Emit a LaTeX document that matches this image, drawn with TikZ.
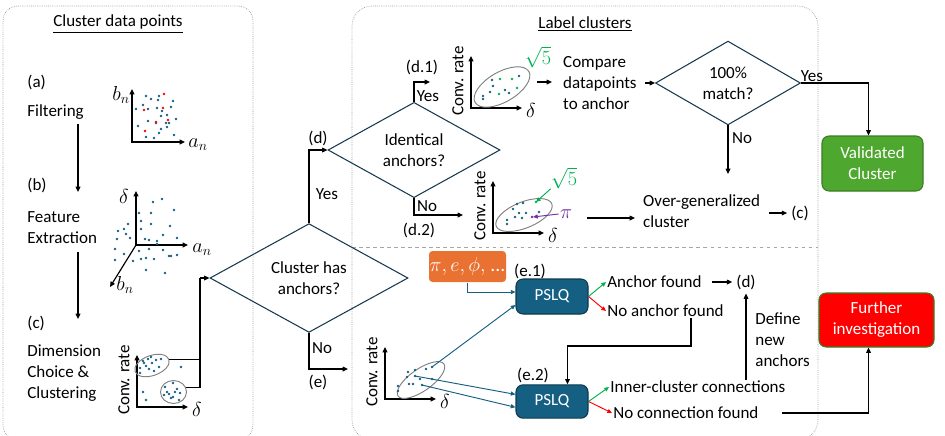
\documentclass[tikz,border=0pt]{standalone}
\usepackage{fontspec}
\setmainfont{Carlito}
\usepackage{amsmath}
\usetikzlibrary{calc,positioning,shapes.geometric,arrows.meta}
\definecolor{ptblue}{HTML}{156082}
\definecolor{dkblue}{HTML}{17394F}
\definecolor{orng}{HTML}{E97132}
\definecolor{vgreen}{HTML}{4EA72E}
\definecolor{bdgreen}{HTML}{3A7D22}
\definecolor{agreen}{HTML}{00B050}
\definecolor{purp}{HTML}{7030A0}

\begin{document}
\begin{tikzpicture}[x=0.03cm, y=-0.03cm, font=\fontsize{14.5}{18}\selectfont,
  flow/.style={draw, line width=0.9pt, -{Triangle[length=4.5pt,width=4pt]}},
  lnk/.style={draw=ptblue, line width=0.8pt, -{Triangle[length=4pt,width=3.5pt]}},
  grn/.style={draw=agreen, line width=0.8pt, -{Triangle[length=4pt,width=3.5pt]}},
  nogo/.style={draw=red, line width=0.8pt, -{Triangle[length=4pt,width=3.5pt]}},
  axis/.style={line width=1pt, {Triangle[length=4.5pt,width=4pt]}-{Triangle[length=4.5pt,width=4pt]}},
  clus/.style={ellipse, draw=gray, line width=0.8pt, inner sep=0},
  dec/.style={diamond, draw=dkblue, line width=0.9pt, align=center, inner sep=0},
  box/.style={rounded corners=6pt, line width=0.9pt, text=white, align=center},
  txt/.style={inner sep=1pt, align=left},
  mth/.style={inner sep=1pt, font=\fontsize{18}{20}\selectfont},
  panel/.style={draw=gray!80, densely dotted, line width=0.6pt}]
\useasboundingbox (0,0) rectangle (945,435);

\draw[panel, rounded corners=0.45cm] (3,6) rectangle (253,440);
\draw[panel, rounded corners=0.6cm] (352,6) rectangle (818,440);
\draw[gray!70, dashed, line width=0.6pt] (352,247) -- (818,247);
\node (ttla) at (118,24) {\underline{Cluster data points}};
\node (ttlb) at (585,24) {\underline{Label clusters}};

% left column
\node[txt, anchor=west] (lbla) at (26,82) {(a)};
\node[txt, anchor=west] (filt) at (26,112) {Filtering};
\node[txt, anchor=west] (lblb) at (26,185) {(b)};
\node[txt, anchor=west] (feat) at (26,228) {Feature\\Extraction};
\node[txt, anchor=west] (lblc) at (26,323) {(c)};
\node[txt, anchor=west] (dimc) at (26,373) {Dimension\\Choice \&\\Clustering};
\coordinate (ab1) at (78,124); \coordinate (ab2) at (78,192);
\coordinate (bc1) at (78,252); \coordinate (bc2) at (78,319);
\draw[flow] (ab1) -- (ab2);
\draw[flow] (bc1) -- (bc2);

% (a) filtering plot
\draw[axis] (132,89) |- (185,142);
\node[mth] (bna) at (121,95) {$b_n$};
\node[mth] (ana) at (198,145) {$a_n$};
\foreach \p in {(146,96),(151,99),(159,96),(158,100),(173,101),(136,109),(143,105),(148,109),(157,108),(171,107),(162,111),(161,116),(167,115),(138,126),(148,121),(156,123),(166,123),(169,123),(176,119),(161,129),(159,133),(167,127),(146,137),(154,138),(174,135)}
  \fill[ptblue] \p circle (1.1pt);
\foreach \p in {(164,94),(144,110),(163,108),(156,122),(168,120),(145,131)}
  \fill[red] \p circle (1.1pt);

% (b) feature plot
\draw[axis] (136,191) |- (188,245);
\draw[line width=1pt, -{Triangle[length=4.5pt,width=4pt]}] (136,245) -- (110,287);
\node[mth] (dlb) at (124,196) {$\delta$};
\node[mth] (anb) at (202,250) {$a_n$};
\node[mth] (bnb) at (125,285) {$b_n$};
\foreach \p in {(153,202),(162,199),(174,210),(139,213),(151,213),(128,224),(141,221),(151,224),(124,229),(141,229),(170,226),(118,231),(126,234),(130,238),(117,239),(145,239),(149,240),(157,241),(163,235),(177,238),(115,249),(124,254),(139,251),(149,249),(163,250),(169,256),(171,256),(177,255),(133,261),(141,259),(146,258),(154,259),(115,260),(146,270),(165,273),(157,244)}
  \fill[ptblue] \p circle (1.1pt);

% conv. rate plots
\foreach \ox/\oy/\nm in {137/407/c, 471/108/da, 493/233/db, 385/399/e}{
  \draw[axis] (\ox,\oy-52) |- (\ox+51,\oy);
  \node[rotate=90] (cv-\nm) at (\ox-13,\oy-27) {Conv. rate};
  \node[mth] (dl-\nm) at (\ox+60,\oy+2) {$\delta$};
}

% (c) clusters
\node[clus, minimum width=1.08cm, minimum height=0.6cm, rotate=20] (cA) at (152,365.5) {};
\node[clus, minimum width=0.78cm, minimum height=0.69cm] (cB) at (173.5,392) {};
\foreach \p in {(143,361),(148,359),(151,357),(156,360),(161,359),(152,363),(146,366),(149,369),(154,371),(159,367),(140,368),(140,373),(144,363),(181,367),(143,392),(146,400),(173,383),(165,387),(177,389),(167,392),(169,394),(164,395),(173,397),(180,393),(179,400),(175,392),(171,398)}
  \fill[ptblue] \p circle (1.1pt);
\coordinate (jc) at (200,278);
\draw[line width=0.9pt] (cA.east) -| (jc);
\draw[line width=0.9pt] (cB.20) -| (jc);

% decisions
\node[dec, minimum width=5.94cm, minimum height=2.49cm] (hasanc) at (309,278) {Cluster has\\anchors?};
\node[dec, minimum width=5.16cm, minimum height=2.46cm] (ident) at (414,150) {Identical\\anchors?};
\node[dec, minimum width=4.35cm, minimum height=2.46cm] (match) at (728,83) {100\%\\match?};
\draw[flow] (jc) -- (hasanc.west);
\coordinate (ego) at (348,369);
\coordinate (d1go) at (430,82);
\coordinate (d2go) at (463,215);
\draw[flow] (hasanc.north) |- (ident.west);
\draw[flow] (hasanc.south) |- (ego);
\draw[flow] (ident.north) |- (d1go);
\draw[flow] (ident.south) |- (d2go);
\node (yesa) at (327,194) {Yes};
\node (lbld) at (318,138) {(d)};
\node (noa) at (322,348) {No};
\node (lble) at (318,382) {(e)};
\node (yesb) at (428,96) {Yes};
\node (lbld1) at (422,67) {(d.1)};
\node (nob) at (427,206) {No};
\node (lbld2) at (419,230) {(d.2)};

% (d.1) plot
\node[clus, minimum width=1.86cm, minimum height=0.9cm, rotate=30] (eda) at (502,87) {};
\foreach \p in {(492,80),(493,86),(490,92),(483,96),(483,99),(505,90),(509,93),(519,76)}
  \fill[ptblue] \p circle (1.1pt);
\node[agreen, mth, inner sep=0, font=\fontsize{19}{20}\selectfont] (sqa) at (538,57) {$\sqrt{5}$};
\foreach \p [count=\k] in {(500,79),(499,94),(512,79),(517,88)}{
  \fill[agreen] \p circle (1.1pt);
  \coordinate (g\k) at \p;
  \draw[grn] (sqa.south west) -- (g\k);
}

% (d.2) plot
\node[clus, minimum width=1.8cm, minimum height=0.78cm, rotate=22] (edb) at (524,215) {};
\foreach \p in {(517,204),(523,203),(513,209),(519,213),(526,213),(515,217),(522,218),(507,220),(507,224),(539,212)}
  \fill[ptblue] \p circle (1.1pt);
\fill[agreen] (536,202) circle (1.1pt);
\fill[purp] (532,217) circle (1.1pt);
\coordinate (gq) at (536,202);
\coordinate (pq) at (533,217);
\node[agreen, mth, inner sep=0, font=\fontsize{19}{20}\selectfont] (sqb) at (564,178) {$\sqrt{5}$};
\node[purp, mth] (pib) at (566,214) {$\pi$};
\draw[grn] (sqb.south west) -- (gq);
\draw[draw=purp, line width=0.8pt, -{Triangle[length=4pt,width=3.5pt]}] (pib.west) -- (pq);

% label clusters, upper half
\node[txt, anchor=west, inner sep=0] (compare) at (563,83) {Compare\\datapoints\\to anchor};
\coordinate (daout) at (537,82);
\draw[flow, shorten >=0.33cm] (daout) -- (daout -| compare.west);
\draw[flow, shorten <=0.24cm] (compare.east) -- (match.west);
\node[box, draw=bdgreen, fill=vgreen, minimum width=3.03cm, minimum height=1.65cm] (valid) at (872.5,163.5) {Validated\\Cluster};
\draw[flow] (match.east) -| ($(valid.north)+(-4,0)$);
\node (yesc) at (812,76) {Yes};
\coordinate (nofin) at (728,174);
\draw[flow] (match.south) -- (nofin);
\node (noc) at (742,138) {No};
\node[txt, anchor=west, inner sep=0] (overgen) at (643,211) {Over-generalized\\cluster};
\coordinate (dbout) at (587,218);
\draw[flow, shorten >=0.24cm] (dbout) -- (dbout -| overgen.west);
\node (cback) at (800,213) {(c)};
\draw[flow, shorten <=0.27cm] (overgen.east |- cback.west) -- (cback.west);

% label clusters, lower half
\node[box, fill=orng, rounded corners=3pt, inner sep=0, minimum width=2.31cm, minimum height=0.93cm, font=\fontsize{17}{20}\selectfont] (consts) at (467.5,266.5) {$\pi, e, \phi,$ ...};
\node[box, draw=ptblue!60!black, fill=ptblue, minimum width=2.16cm, minimum height=1.05cm] (pslqa) at (552,296.5) {PSLQ};
\node[box, draw=ptblue!60!black, fill=ptblue, minimum width=2.16cm, minimum height=1.0cm] (pslqb) at (552,401.5) {PSLQ};
\node (lble1) at (530,271) {(e.1)};
\node (lble2) at (533,375) {(e.2)};
\draw[lnk] (consts.south) |- (pslqa.173);

\node[clus, minimum width=1.68cm, minimum height=0.66cm, rotate=35] (ee) at (421,380) {};
\foreach \p in {(426,369),(432,367),(415,370),(408,372),(407,377),(415,376),(420,379),(409,384),(413,384),(422,385),(398,386),(398,391),(432,379)}
  \fill[ptblue] \p circle (1.1pt);
\coordinate (eA) at (432,367);
\coordinate (eB) at (415,376);
\coordinate (eC) at (422,385);
\draw[lnk] (eA) -- (pslqa.193);
\draw[lnk] (eB) -- (pslqb.169);
\draw[lnk] (eC) -- (pslqb.189);

\node[txt, anchor=west] (anchfound) at (606,282) {Anchor found};
\node[txt, anchor=west] (noanch) at (606,311) {No anchor found};
\node[txt, anchor=west] (innerc) at (609,387) {Inner-cluster connections};
\node[txt, anchor=west] (noconn) at (612,413) {No connection found};
\draw[grn] (pslqa.east) -- (anchfound.west);
\draw[nogo] (pslqa.east) -- (noanch.west);
\draw[grn] (pslqb.east) -- (innerc.west);
\draw[nogo] (pslqb.east) -- (noconn.west);

\node (dlbl) at (746,282) {(d)};
\draw[flow, shorten <=0.27cm] (anchfound.east) -- (dlbl.west);
\draw[flow] (dlbl.south |- innerc.north) -- (dlbl.south);
\node[txt, anchor=west] (defanc) at (754,340) {Define\\new\\anchors};
\coordinate (nabend) at (691,346);
\draw[flow] (nabend |- noanch.south) -- (nabend) -| (pslqb.48);

\node[box, draw=bdgreen, fill=red, minimum width=3.45cm, minimum height=1.62cm] (further) at (876.5,320) {Further\\investigation};
\draw[flow, shorten <=0.66cm] (noconn.east) -| ($(further.south)+(-8,0)$);
\end{tikzpicture}
\end{document}
